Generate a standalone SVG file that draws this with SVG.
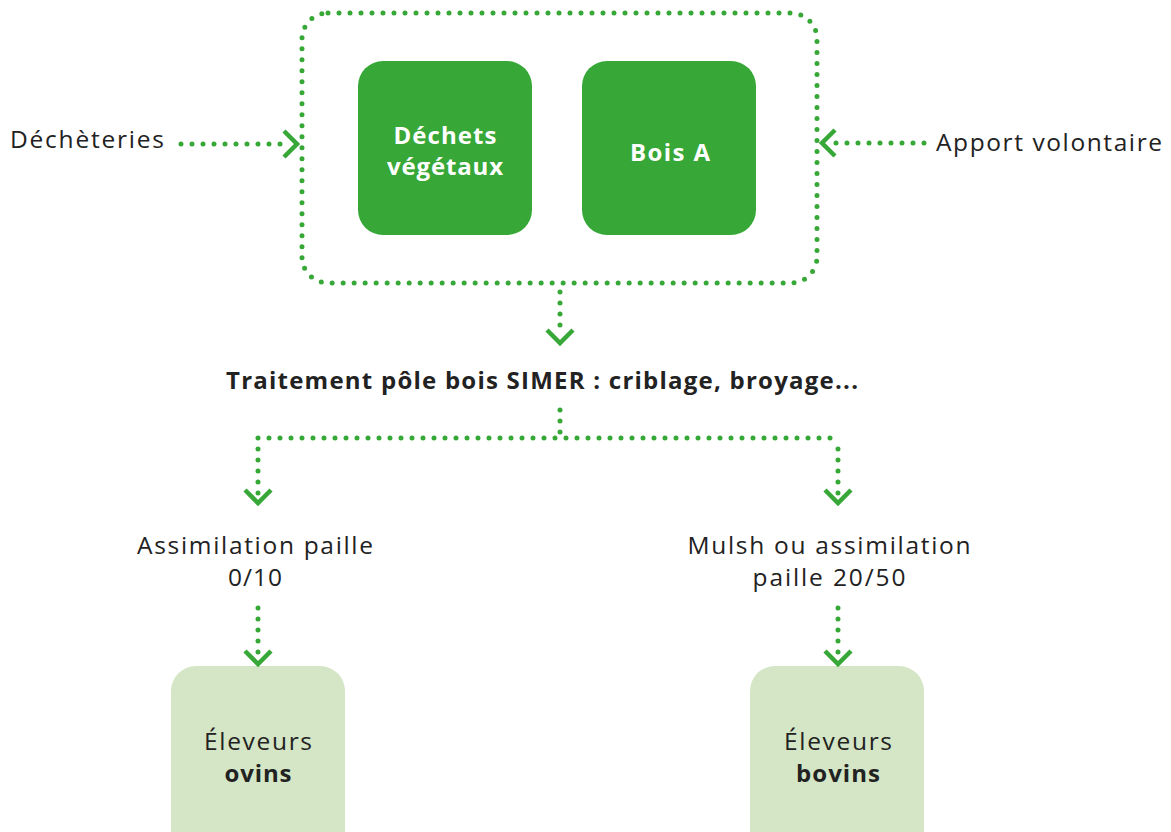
<svg xmlns="http://www.w3.org/2000/svg" width="1171" height="832" viewBox="0 0 1171 832">
<style>
.dot{fill:none;stroke:#37a837;stroke-width:5;stroke-linecap:round;stroke-dasharray:0 11}
.head{fill:none;stroke:#37a837;stroke-width:4.5;stroke-linecap:butt;stroke-linejoin:miter}
.t{font-family:"Open Sans","Noto Sans",sans-serif;font-size:24.5px;fill:#222;text-anchor:middle}
.b{font-weight:bold;font-size:24px}
.w{fill:#fff;font-weight:bold;font-size:24px}
.dark{fill:#37a837}
.light{fill:#d4e6c5}
</style>
<rect x="0" y="0" width="1171" height="832" fill="#fff"/>
<g id="container">
<rect class="dot" x="302" y="13" width="515" height="270" rx="26"/>
</g>
<g id="dechets">
<rect class="dark" x="358" y="61" width="174" height="174" rx="25"/>
<text class="t w" x="445" y="144" textLength="103">Déchets</text>
<text class="t w" x="445" y="175" textLength="116">végétaux</text>
</g>
<g id="bois">
<rect class="dark" x="582" y="61" width="174" height="174" rx="25"/>
<text class="t w" x="670" y="161" textLength="80">Bois A</text>
</g>
<g id="decheteries"><text class="t" x="87" y="148" textLength="154">Déchèteries</text></g>
<g id="apport"><text class="t" x="1049" y="151" textLength="226">Apport volontaire</text></g>
<g id="traitement"><text class="t b" x="542" y="389" textLength="632">Traitement pôle bois SIMER : criblage, broyage...</text></g>
<g id="assim1"><text class="t" x="255" y="554" textLength="236">Assimilation paille</text><text class="t" x="255" y="586" textLength="54">0/10</text></g>
<g id="assim2"><text class="t" x="829" y="554" textLength="283">Mulsh ou assimilation</text><text class="t" x="829" y="586" textLength="153">paille 20/50</text></g>
<g id="ovins">
<rect class="light" x="171" y="666" width="174" height="190" rx="25"/>
<text class="t" x="258" y="750" textLength="108">Éleveurs</text>
<text class="t b" x="258" y="782" textLength="67">ovins</text>
</g>
<g id="bovins">
<rect class="light" x="750" y="666" width="174" height="190" rx="25"/>
<text class="t" x="838" y="750" textLength="108">Éleveurs</text>
<text class="t b" x="838" y="782" textLength="84">bovins</text>
</g>
<g id="connectors">
<path class="dot" d="M181 144 H290"/>
<path class="head" d="M284 131 L297 144 L284 157"/>
<path class="dot" d="M924 143 H829"/>
<path class="head" d="M835 130 L822 143 L835 156"/>
<path class="dot" d="M560 292 V336"/>
<path class="head" d="M547 330 L560 343 L573 330"/>
<path class="dot" d="M560 410 V437"/>
<path class="dot" d="M258 438 H838"/>
<path class="dot" d="M258 449 V494"/>
<path class="head" d="M245 490 L258 503 L271 490"/>
<path class="dot" d="M838 449 V494"/>
<path class="head" d="M825 490 L838 503 L851 490"/>
<path class="dot" d="M258 608 V656"/>
<path class="head" d="M245 651 L258 664 L271 651"/>
<path class="dot" d="M838 608 V656"/>
<path class="head" d="M825 651 L838 664 L851 651"/>
</g>
</svg>
